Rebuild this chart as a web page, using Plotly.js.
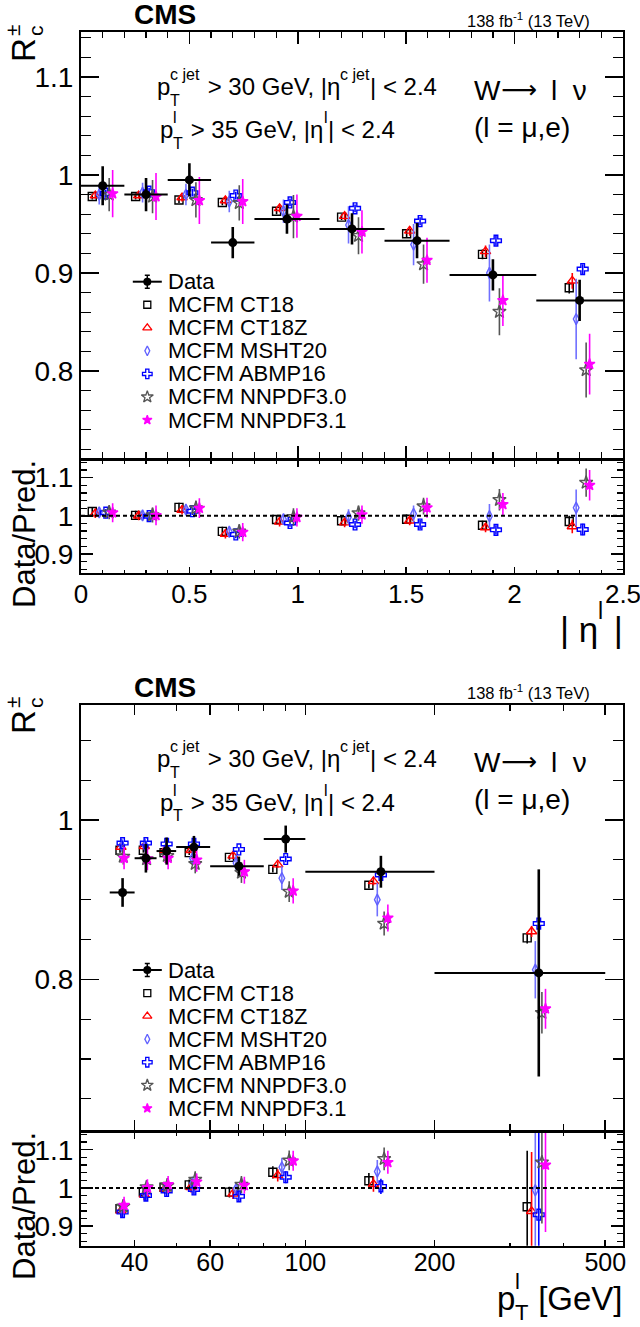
<!DOCTYPE html>
<html><head><meta charset="utf-8">
<script src="https://cdn.plot.ly/plotly-3.0.1.min.js"></script>
<style>body{margin:0;background:#fff}#chart{width:640px;height:1327px}</style>
</head><body><div id="chart"></div>
<script>
// ===================== DATA: R_c vs |eta^l| =====================
const etaLow    = [0.0, 0.2, 0.4, 0.6, 0.8, 1.1, 1.4, 1.7, 2.1];
const etaHigh   = [0.2, 0.4, 0.6, 0.8, 1.1, 1.4, 1.7, 2.1, 2.5];
const etaCenter = [0.1, 0.3, 0.5, 0.7, 0.95, 1.25, 1.55, 1.9, 2.3];
const etaData    = [0.989, 0.980, 0.995, 0.931, 0.955, 0.945, 0.933, 0.898, 0.872];
const etaDataErr = [0.020, 0.017, 0.017, 0.016, 0.015, 0.016, 0.018, 0.016, 0.021];

const etaCT18      = [0.978, 0.978, 0.9745, 0.972, 0.963, 0.957, 0.940, 0.919, 0.885];
const etaCT18Err   = [0.003, 0.003, 0.003, 0.003, 0.003, 0.003, 0.004, 0.005, 0.006];
const etaCT18Z     = [0.979, 0.979, 0.977, 0.974, 0.966, 0.958, 0.943, 0.922, 0.892];
const etaCT18ZErr  = [0.003, 0.003, 0.004, 0.004, 0.004, 0.004, 0.005, 0.006, 0.008];
const etaMSHT20    = [0.980, 0.982, 0.980, 0.973, 0.963, 0.949, 0.929, 0.900, 0.853];
const etaMSHT20Err = [0.010, 0.010, 0.011, 0.011, 0.012, 0.019, 0.021, 0.029, 0.041];
const etaABMP16    = [0.981, 0.983, 0.982, 0.979, 0.972, 0.966, 0.953, 0.933, 0.904];
const etaABMP16Err = [0.004, 0.004, 0.004, 0.004, 0.004, 0.004, 0.004, 0.005, 0.005];
const etaNN30      = [0.980, 0.978, 0.9745, 0.9715, 0.9575, 0.938, 0.909, 0.8605, 0.801];
const etaNN30Err   = [0.017, 0.017, 0.018, 0.018, 0.022, 0.019, 0.020, 0.024, 0.028];
const etaNN31      = [0.981, 0.978, 0.974, 0.973, 0.958, 0.942, 0.913, 0.872, 0.807];
const etaNN31Err   = [0.024, 0.024, 0.024, 0.023, 0.022, 0.022, 0.023, 0.026, 0.031];

// Data / Prediction (|eta|)
const etaRatCT18      = [1.011, 1.001, 1.022, 0.959, 0.990, 0.987, 0.991, 0.975, 0.985];
const etaRatCT18Err   = [0.012, 0.012, 0.012, 0.012, 0.012, 0.012, 0.012, 0.012, 0.015];
const etaRatCT18Z     = [1.006, 1.000, 1.015, 0.952, 0.984, 0.982, 0.987, 0.969, 0.972];
const etaRatCT18ZErr  = [0.012, 0.012, 0.012, 0.012, 0.012, 0.012, 0.012, 0.012, 0.018];
const etaRatMSHT20    = [1.009, 1.001, 1.016, 0.958, 0.991, 0.997, 1.005, 0.999, 1.021];
const etaRatMSHT20Err = [0.013, 0.013, 0.013, 0.013, 0.013, 0.020, 0.022, 0.032, 0.048];
const etaRatABMP16    = [1.008, 0.999, 1.012, 0.951, 0.981, 0.977, 0.977, 0.963, 0.964];
const etaRatABMP16Err = [0.010, 0.010, 0.010, 0.010, 0.010, 0.010, 0.012, 0.012, 0.015];
const etaRatNN30      = [1.009, 1.002, 1.020, 0.959, 0.997, 1.007, 1.025, 1.042, 1.087];
const etaRatNN30Err   = [0.018, 0.020, 0.020, 0.019, 0.023, 0.020, 0.022, 0.028, 0.037];
const etaRatNN31      = [1.008, 1.001, 1.020, 0.957, 0.996, 1.003, 1.021, 1.030, 1.080];
const etaRatNN31Err   = [0.025, 0.026, 0.026, 0.024, 0.024, 0.024, 0.026, 0.030, 0.040];

// ===================== DATA: R_c vs pT^l =====================
const ptLow    = [35, 40, 45, 50, 60, 80, 100, 200];
const ptHigh   = [40, 45, 50, 60, 80, 100, 200, 500];
const ptCenter = [37.5, 42.5, 47.5, 55, 70, 90, 150, 350];
const ptData    = [0.909, 0.952, 0.961, 0.966, 0.942, 0.976, 0.935, 0.808];
const ptDataErr = [0.018, 0.018, 0.017, 0.014, 0.012, 0.017, 0.020, 0.130];

const ptCT18      = [0.962, 0.962, 0.959, 0.959, 0.953, 0.938, 0.918, 0.852];
const ptCT18Err   = [0.003, 0.003, 0.003, 0.003, 0.003, 0.004, 0.004, 0.007];
const ptCT18Z     = [0.966, 0.967, 0.962, 0.962, 0.955, 0.944, 0.923, 0.860];
const ptCT18ZErr  = [0.003, 0.003, 0.003, 0.003, 0.004, 0.004, 0.005, 0.007];
const ptMSHT20    = [0.968, 0.968, 0.963, 0.952, 0.946, 0.927, 0.900, 0.812];
const ptMSHT20Err = [0.008, 0.008, 0.008, 0.009, 0.010, 0.015, 0.021, 0.036];
const ptABMP16    = [0.971, 0.971, 0.970, 0.970, 0.963, 0.951, 0.931, 0.870];
const ptABMP16Err = [0.003, 0.003, 0.003, 0.003, 0.003, 0.004, 0.004, 0.005];
const ptNN30      = [0.954, 0.951, 0.955, 0.945, 0.934, 0.910, 0.870, 0.758];
const ptNN30Err   = [0.010, 0.010, 0.011, 0.012, 0.013, 0.013, 0.015, 0.026];
const ptNN31      = [0.952, 0.951, 0.952, 0.950, 0.935, 0.911, 0.877, 0.763];
const ptNN31Err   = [0.014, 0.014, 0.014, 0.015, 0.015, 0.016, 0.017, 0.025];

const ptRatCT18      = [0.946, 0.990, 1.002, 1.008, 0.989, 1.041, 1.019, 0.951];
const ptRatCT18Err   = [0.014, 0.014, 0.014, 0.014, 0.014, 0.016, 0.020, 0.146];
const ptRatCT18Z     = [0.940, 0.982, 0.998, 1.002, 0.985, 1.033, 1.010, 0.939];
const ptRatCT18ZErr  = [0.014, 0.014, 0.014, 0.014, 0.014, 0.016, 0.020, 0.155];
const ptRatMSHT20    = [0.940, 0.985, 1.000, 1.012, 0.997, 1.054, 1.043, 0.994];
const ptRatMSHT20Err = [0.016, 0.016, 0.016, 0.018, 0.018, 0.025, 0.030, 0.165];
const ptRatABMP16    = [0.937, 0.980, 0.992, 0.996, 0.978, 1.028, 1.004, 0.930];
const ptRatABMP16Err = [0.014, 0.014, 0.014, 0.014, 0.014, 0.016, 0.020, 0.220];
const ptRatNN30      = [0.952, 1.002, 1.006, 1.022, 1.009, 1.072, 1.076, 1.067];
const ptRatNN30Err   = [0.018, 0.018, 0.020, 0.022, 0.022, 0.026, 0.030, 0.160];
const ptRatNN31      = [0.955, 1.001, 1.009, 1.016, 1.007, 1.071, 1.067, 1.060];
const ptRatNN31Err   = [0.022, 0.022, 0.022, 0.022, 0.022, 0.026, 0.030, 0.175];

const seriesNames = ['MCFM CT18', 'MCFM CT18Z', 'MCFM MSHT20', 'MCFM ABMP16', 'MCFM NNPDF3.0', 'MCFM NNPDF3.1'];
const xTickLabelsEta = ['0', '0.5', '1', '1.5', '2', '2.5'];
const xTickLabelsPt  = ['40', '60', '100', '200', '500'];

// ===================== STYLE / LAYOUT CONSTANTS =====================
const W = 640, H = 1327;
const FONT = '"Liberation Sans", Arial, Helvetica, sans-serif';
const styles = [
  {symbol: 'square-open',      color: '#000000', ecolor: '#000000', size: 8},
  {symbol: 'triangle-up-open', color: '#ff0000', ecolor: '#ff0000', size: 9},
  {symbol: 'diamond-tall-open',color: '#6060ff', ecolor: '#7070ff', size: 8},
  {symbol: 'cross-open',       color: '#0000ff', ecolor: '#0000ff', size: 9},
  {symbol: 'star-open',        color: '#555555', ecolor: '#555555', size: 10},
  {symbol: 'star',             color: '#ff00ff', ecolor: '#ff00ff', size: 8}
];
// horizontal display offsets of the predictions (|eta| units; log-decade units for pT)
const etaShift = [-0.048, -0.034, -0.016, 0.014, 0.030, 0.046];
const ptShiftFactor = [-1, -0.62, -0.3, 0, 0.27, 0.58];
const ptShiftDex = [0.006, 0.006, 0.006, 0.011, 0.022, 0.030, 0.028, 0.027];

const px = v => v / W;
const py = v => 1 - v / H;
const yd = (top, bot) => [py(bot), py(top)];
const XD = [px(81), px(623)];

const etaPred = [etaCT18, etaCT18Z, etaMSHT20, etaABMP16, etaNN30, etaNN31];
const etaPredErr = [etaCT18Err, etaCT18ZErr, etaMSHT20Err, etaABMP16Err, etaNN30Err, etaNN31Err];
const etaRat = [etaRatCT18, etaRatCT18Z, etaRatMSHT20, etaRatABMP16, etaRatNN30, etaRatNN31];
const etaRatErr = [etaRatCT18Err, etaRatCT18ZErr, etaRatMSHT20Err, etaRatABMP16Err, etaRatNN30Err, etaRatNN31Err];
const ptPred = [ptCT18, ptCT18Z, ptMSHT20, ptABMP16, ptNN30, ptNN31];
const ptPredErr = [ptCT18Err, ptCT18ZErr, ptMSHT20Err, ptABMP16Err, ptNN30Err, ptNN31Err];
const ptRat = [ptRatCT18, ptRatCT18Z, ptRatMSHT20, ptRatABMP16, ptRatNN30, ptRatNN31];
const ptRatErr = [ptRatCT18Err, ptRatCT18ZErr, ptRatMSHT20Err, ptRatABMP16Err, ptRatNN30Err, ptRatNN31Err];

function predTrace(xs, ys, errs, s, xa, ya, name) {
  const st = styles[s];
  return {
    type: 'scatter', mode: 'markers', name: name, x: xs, y: ys, xaxis: xa, yaxis: ya,
    showlegend: false, hoverinfo: 'skip',
    marker: {symbol: st.symbol, size: st.size, color: st.color, line: {color: st.color, width: 1.4}},
    error_y: {type: 'data', array: errs, visible: true, color: st.ecolor, thickness: 1.6, width: 0}
  };
}
function dataTrace(xs, ys, errs, lo, hi, xa, ya) {
  return {
    type: 'scatter', mode: 'markers', name: 'Data', x: xs, y: ys, xaxis: xa, yaxis: ya,
    showlegend: false, hoverinfo: 'skip',
    marker: {symbol: 'circle', size: 9, color: '#000'},
    error_y: {type: 'data', array: errs, visible: true, color: '#000', thickness: 2.6, width: 0},
    error_x: {type: 'data', symmetric: false, array: hi.map((h, i) => h - xs[i]),
              arrayminus: lo.map((l, i) => xs[i] - l), visible: true, color: '#000', thickness: 2, width: 0}
  };
}

const traces = [];
for (let s = 0; s < 6; s++) {
  const xe = etaCenter.map(c => c + etaShift[s]);
  traces.push(predTrace(xe, etaPred[s], etaPredErr[s], s, 'x', 'y', seriesNames[s]));
  traces.push(predTrace(xe, etaRat[s], etaRatErr[s], s, 'x2', 'y2', seriesNames[s]));
  const xp = ptCenter.map((c, i) => c * Math.pow(10, ptShiftDex[i] * ptShiftFactor[s]));
  traces.push(predTrace(xp, ptPred[s], ptPredErr[s], s, 'x3', 'y3', seriesNames[s]));
  traces.push(predTrace(xp, ptRat[s], ptRatErr[s], s, 'x4', 'y4', seriesNames[s]));
}
traces.push(dataTrace(etaCenter, etaData, etaDataErr, etaLow, etaHigh, 'x', 'y'));
traces.push(dataTrace(ptCenter, ptData, ptDataErr, ptLow, ptHigh, 'x3', 'y3'));

// ---------- legends (drawn on a pixel-space overlay axis) ----------
const annotations = [];
function addLegend(topY) {
  const mx = 147.3, tx = 168, dy = 23.05;
  traces.push({type: 'scatter', mode: 'markers', x: [mx], y: [topY], xaxis: 'x5', yaxis: 'y5',
    showlegend: false, hoverinfo: 'skip', cliponaxis: false,
    marker: {symbol: 'circle', size: 8, color: '#000'},
    error_x: {type: 'constant', value: 14.5, color: '#000', thickness: 2, width: 0},
    error_y: {type: 'constant', value: 6.5, color: '#000', thickness: 1.5, width: 2.5}});
  annotations.push(txt('Data', tx, topY, 22, 'left'));
  for (let s = 0; s < 6; s++) {
    const st = styles[s], yy = topY + dy * (s + 1);
    traces.push({type: 'scatter', mode: 'markers', x: [mx], y: [yy], xaxis: 'x5', yaxis: 'y5',
      showlegend: false, hoverinfo: 'skip', cliponaxis: false,
      marker: {symbol: st.symbol, size: st.size - 1, color: st.color, line: {color: st.color, width: 1.3}}});
    annotations.push(txt(seriesNames[s], tx, yy, 22, 'left'));
  }
}

// ---------- text helpers ----------
const cctx = document.createElement('canvas').getContext('2d');
function tw(s, size, weight) { cctx.font = (weight || 'normal') + ' ' + size + 'px "Liberation Sans", "DejaVu Sans", Arial'; return cctx.measureText(s).width; }
function txt(t, x, y, size, anchor, extra) {
  return Object.assign({text: t, x: px(x), y: py(y), xref: 'paper', yref: 'paper', showarrow: false,
    xanchor: anchor || 'left', yanchor: 'middle', borderpad: 0, borderwidth: 0,
    font: {family: FONT, size: size, color: '#000'}}, extra || {});
}
// pieces: strings (main) or {sup, sub} (stacked scripts)
function composite(pieces, x, yc, size, alignRight, subOff) {
  const ss = Math.round(size * 0.66);
  const so = subOff || 0.55;
  const widths = pieces.map(p => typeof p === 'string' ? tw(p, size) :
      Math.max(p.sup ? tw(p.sup, ss) : 0, p.sub ? tw(p.sub, ss) : 0) + 1);
  let cur = alignRight ? x - widths.reduce((a, b) => a + b, 0) : x;
  pieces.forEach((p, i) => {
    if (typeof p === 'string') {
      annotations.push(txt(p, cur, yc, size, 'left'));
    } else {
      if (p.sup) annotations.push(txt(p.sup, cur, yc - size * 0.5, ss, 'left'));
      if (p.sub) annotations.push(txt(p.sub, cur, yc + size * so, ss, 'left'));
    }
    cur += widths[i];
  });
}

function panelTexts(off, legendTop) {
  annotations.push(txt('<b>CMS</b>', 165, 15 + off, 28, 'center'));
  annotations.push(txt('138 fb<sup>-1</sup> (13 TeV)', 590, 20 + off, 16.5, 'right'));
  composite(['p', {sup: 'c jet', sub: 'T'}, ' > 30 GeV, |η', {sup: 'c jet'}, '| < 2.4'], 157, 87 + off, 24);
  composite(['p', {sup: 'l', sub: 'T'}, ' > 35 GeV, |η', {sup: 'l'}, '| < 2.4'], 160, 130 + off, 24);
  annotations.push(txt('W', 474, 90 + off, 28, 'left'));
  annotations.push(txt('⟶', 501, 89 + off, 26, 'left', {font: {family: '"DejaVu Sans", sans-serif', size: 25, color: '#000'}}));
  annotations.push(txt('l  ν', 551, 90 + off, 28, 'left'));
  annotations.push(txt('(l = μ,e)', 474, 127 + off, 28, 'left'));
  // rotated y titles
  annotations.push(txt('R', 23, 50 + off, 33, 'center', {textangle: -90}));
  annotations.push(txt('c', 35, 31 + off, 21, 'center', {textangle: -90}));
  annotations.push(txt('±', 12, 30 + off, 21, 'center', {textangle: -90}));
  annotations.push(txt('Data/Pred.', 24, 534 + off, 31, 'center', {textangle: -90}));
  addLegend(legendTop);
}
panelTexts(0, 281.7);
panelTexts(672, 970);
composite(['| η', {sup: 'l'}, ' |'], 623, 629, 35, true);
composite(['p', {sup: 'l', sub: 'T'}, ' [GeV]'], 623, 1298, 33, true, 0.44);

// ---------- axes ----------
const base = {showline: true, linecolor: '#000', linewidth: 2, mirror: 'allticks', ticks: 'inside',
  tickcolor: '#000', showgrid: false, zeroline: false, fixedrange: true, ticklabeloverflow: 'allow',
  tickfont: {family: FONT, size: 26, color: '#000'}};
const ax = o => Object.assign({}, base, o);
const layout = {
  width: W, height: H, margin: {l: 0, r: 0, t: 0, b: 0},
  paper_bgcolor: '#fff', plot_bgcolor: 'rgba(0,0,0,0)', showlegend: false,
  font: {family: FONT, color: '#000'},
  xaxis: ax({domain: XD, anchor: 'y', range: [0, 2.5], tickmode: 'array', tickvals: [0, 0.5, 1, 1.5, 2, 2.5],
    showticklabels: false, ticklen: 12, tickwidth: 1.5,
    minor: {tickmode: 'linear', tick0: 0, dtick: 0.1, ticklen: 6, tickwidth: 1.2, tickcolor: '#000', ticks: 'inside', showgrid: false}}),
  yaxis: ax({domain: yd(32.3, 458.3), anchor: 'x', range: [0.7109, 1.1456], tickmode: 'array',
    tickvals: [0.8, 0.9, 1.0, 1.1], ticktext: ['0.8', '0.9', '1', '1.1'], ticklen: 18, tickwidth: 1.5,
    tickfont: {family: FONT, size: 28, color: '#000'},
    minor: {tickmode: 'linear', tick0: 0, dtick: 0.02, ticklen: 10, tickwidth: 1.2, tickcolor: '#000', ticks: 'inside', showgrid: false}}),
  xaxis2: ax({domain: XD, anchor: 'y2', range: [0, 2.5], tickmode: 'array', tickvals: [0, 0.5, 1, 1.5, 2, 2.5],
    ticktext: xTickLabelsEta, ticklen: 6, tickwidth: 1.5, ticklabelstandoff: -4,
    minor: {tickmode: 'linear', tick0: 0, dtick: 0.1, ticklen: 3, tickwidth: 1.2, tickcolor: '#000', ticks: 'inside', showgrid: false}}),
  yaxis2: ax({domain: yd(461, 573.3), anchor: 'x2', range: [0.849, 1.1437], tickmode: 'array',
    tickvals: [0.9, 1.0, 1.1], ticktext: ['0.9', '1', '1.1'], ticklen: 12, tickwidth: 1.5,
    tickfont: {family: FONT, size: 28, color: '#000'},
    minor: {tickmode: 'linear', tick0: 0, dtick: 0.02, ticklen: 6, tickwidth: 1.2, tickcolor: '#000', ticks: 'inside', showgrid: false}}),
  xaxis3: ax({domain: XD, anchor: 'y3', type: 'log', range: [Math.log10(30), Math.log10(550)],
    tickmode: 'array', tickvals: [40, 60, 100, 200, 500], showticklabels: false, ticklen: 10, tickwidth: 1.5,
    minor: {tickmode: 'array', tickvals: [30, 50, 70, 80, 90, 300, 400], ticklen: 6, tickwidth: 1.2, tickcolor: '#000', ticks: 'inside', showgrid: false}}),
  yaxis3: ax({domain: yd(704.5, 1130.3), anchor: 'x3', range: [0.6104, 1.145], tickmode: 'array',
    tickvals: [0.8, 1.0], ticktext: ['0.8', '1'], ticklen: 18, tickwidth: 1.5,
    tickfont: {family: FONT, size: 28, color: '#000'},
    minor: {tickmode: 'linear', tick0: 0, dtick: 0.05, ticklen: 10, tickwidth: 1.2, tickcolor: '#000', ticks: 'inside', showgrid: false}}),
  xaxis4: ax({domain: XD, anchor: 'y4', type: 'log', range: [Math.log10(30), Math.log10(550)],
    tickmode: 'array', tickvals: [40, 60, 100, 200, 500], ticktext: xTickLabelsPt, ticklen: 6, tickwidth: 1.5,
    ticklabelstandoff: -7, tickfont: {family: FONT, size: 25, color: '#000'},
    minor: {tickmode: 'array', tickvals: [30, 50, 70, 80, 90, 300, 400], ticklen: 3, tickwidth: 1.2, tickcolor: '#000', ticks: 'inside', showgrid: false}}),
  yaxis4: ax({domain: yd(1133, 1245.7), anchor: 'x4', range: [0.849, 1.1437], tickmode: 'array',
    tickvals: [0.9, 1.0, 1.1], ticktext: ['0.9', '1', '1.1'], ticklen: 12, tickwidth: 1.5,
    tickfont: {family: FONT, size: 28, color: '#000'},
    minor: {tickmode: 'linear', tick0: 0, dtick: 0.02, ticklen: 6, tickwidth: 1.2, tickcolor: '#000', ticks: 'inside', showgrid: false}}),
  xaxis5: {domain: [0, 1], range: [0, W], visible: false, fixedrange: true, anchor: 'y5'},
  yaxis5: {domain: [0, 1], range: [H, 0], visible: false, fixedrange: true, anchor: 'x5'},
  shapes: [
    {type: 'line', xref: 'x2 domain', yref: 'y2', x0: 0, x1: 1, y0: 1, y1: 1, line: {color: '#000', width: 2, dash: '4px,3px'}},
    {type: 'line', xref: 'x4 domain', yref: 'y4', x0: 0, x1: 1, y0: 1, y1: 1, line: {color: '#000', width: 2, dash: '4px,3px'}}
  ],
  annotations: annotations
};
Plotly.newPlot('chart', traces, layout, {staticPlot: true, displayModeBar: false});
</script>
</body></html>
